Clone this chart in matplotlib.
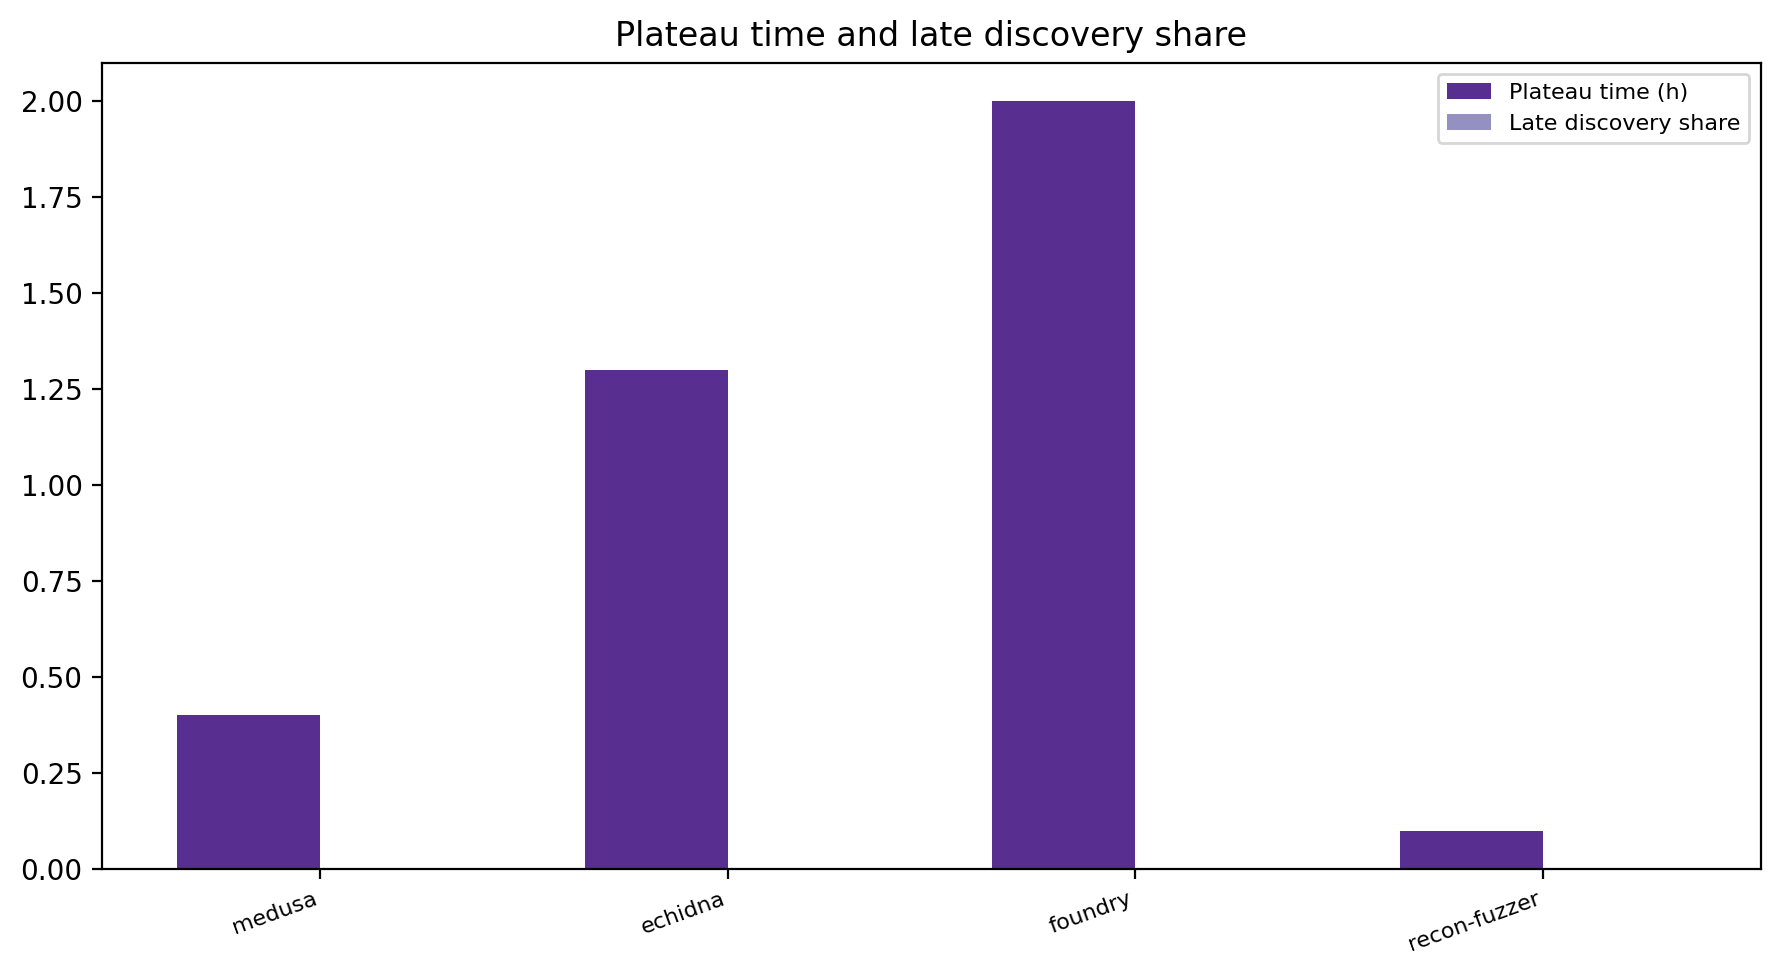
import numpy as np
import matplotlib
matplotlib.use("Agg")
import matplotlib.pyplot as plt

categories = ["medusa", "echidna", "foundry", "recon-fuzzer"]
plateau_time = [0.4, 1.3, 2.0, 0.1]
late_share = [0.0, 0.0, 0.0, 0.0]

fig = plt.figure(figsize=(1781/200, 977/200), dpi=200)
ax = fig.add_axes([0.0573, 0.1105, 0.9312, 0.8255])
x = np.arange(len(categories))
w = 0.35
ax.bar(x - w/2, plateau_time, w, color="#582f91", label="Plateau time (h)")
ax.bar(x + w/2, late_share, w, color="#9491c2", label="Late discovery share")
ax.set_xticks(x)
ax.set_xticklabels(categories, rotation=20, ha="right", fontsize=8)
ax.set_title("Plateau time and late discovery share", fontsize=12)
ax.legend(fontsize=8, loc="upper right")
fig.savefig("out.png", dpi=200)
